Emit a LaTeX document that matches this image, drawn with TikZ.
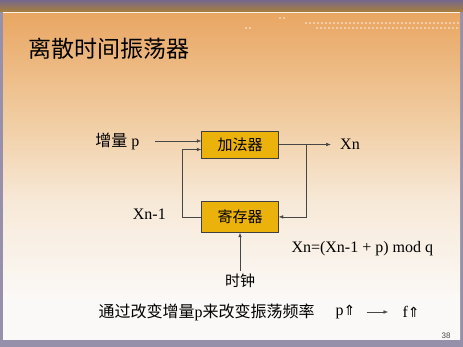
\documentclass[tikz,border=0pt]{standalone}
\usepackage{fontspec}
\setmainfont{Liberation Serif}
\setsansfont{Liberation Sans}
\newfontfamily\cjk{Noto Sans CJK SC}
\newfontfamily\symfont{DejaVu Sans}
\usetikzlibrary{positioning,arrows.meta}
\definecolor{edgegray}{RGB}{150,144,170}
\definecolor{bandtop}{RGB}{118,104,140}
\definecolor{bandgold}{RGB}{168,128,58}
\definecolor{bgorange}{RGB}{233,166,98}
\definecolor{bgpeach}{RGB}{241,206,164}
\definecolor{bglight}{RGB}{247,233,216}
\definecolor{bgwhite}{RGB}{251,249,247}
\definecolor{boxgold}{RGB}{234,178,10}
\definecolor{wire}{RGB}{70,70,70}
\pgfdeclareverticalshading{slidebg}{100bp}{color(0bp)=(bgwhite); color(31bp)=(bgwhite); color(46bp)=(bglight); color(58bp)=(bgpeach); color(75bp)=(bgorange); color(100bp)=(bgorange)}
\tikzset{x=1pt, y=1pt,
  block/.style={draw=black!75, fill=boxgold, minimum width=77pt, font=\cjk\fontsize{15}{15}\selectfont},
  lab/.style={font=\fontsize{16}{18}\selectfont},
  arr/.style={draw=wire, -{Latex[length=4.5pt,width=3.5pt]}}}
\newcommand\upup{{\symfont\fontsize{14}{14}\selectfont ⇑}}

\begin{document}
\begin{tikzpicture}
\useasboundingbox (0,0) rectangle (463,347);
\fill[edgegray] (0,0) rectangle (463,347);
\shade[shading=slidebg] (3,7) rectangle (460,335);
\shade[top color=bandtop, bottom color=bandgold] (0,335) rectangle (463,347);
\draw[white!85!bgorange, line width=1pt] (3,334.5) -- (460,334.5);
\foreach \i in {0,...,38} \fill[white, opacity=.4] (305+4*\i,323) rectangle +(2,2);
\foreach \i in {0,...,35} \fill[white, opacity=.4] (316+4*\i,318) rectangle +(2,2);
\foreach \i in {0,1} {
  \fill[white, opacity=.4] (245+4*\i,318) rectangle +(2,2);
  \fill[white, opacity=.4] (279+4*\i,328) rectangle +(2,2);
}

\node[font=\cjk\fontsize{23}{23}\selectfont, anchor=west] (title) at (25,298) {离散时间振荡器};

\node[block, minimum height=27pt] (adder) at (240,202.5) {加法器};
\node[block, minimum height=31pt, below=43pt of adder] (reg) {寄存器};
\node[lab, anchor=east] (inp) at (143,206) {{\cjk 增量} p};
\node[lab, right=58pt of adder] (xn) {Xn};
\node[lab, left=32pt of reg, yshift=3pt] (xprev) {Xn-1};
\node[font=\cjk\fontsize{15}{15}\selectfont, below=38pt of reg] (clk) {时钟};
\node[lab, anchor=west] (rule) at (288,98) {Xn=(Xn-1 + p) mod q};

\draw[arr, shorten <=12pt] (inp.east) -- (inp.east -| adder.west);
\draw[arr, shorten >=6pt] (adder) -- (xn);
\draw[arr] (adder.east) ++(27.5,0) |- (reg.east);
\draw[arr] (reg.west) -- ++(-19.5,0) |- ([yshift=-5pt]adder.west);
\draw[arr, line width=0.8pt] (clk) -- (reg);

\node[lab, anchor=west] (note) at (95,35) {{\cjk 通过改变增量}p{\cjk 来改变振荡频率}};
\node[lab, anchor=west] (pup) at (332,35) {p\upup};
\node[lab, anchor=west] (fup) at (399,35) {f\upup};
\draw[arr, shorten <=8pt, shorten >=11pt] (pup) -- (fup);

\node[font=\sffamily\fontsize{8}{8}\selectfont, text=black!70] (page) at (446,11) {38};
\end{tikzpicture}
\end{document}
